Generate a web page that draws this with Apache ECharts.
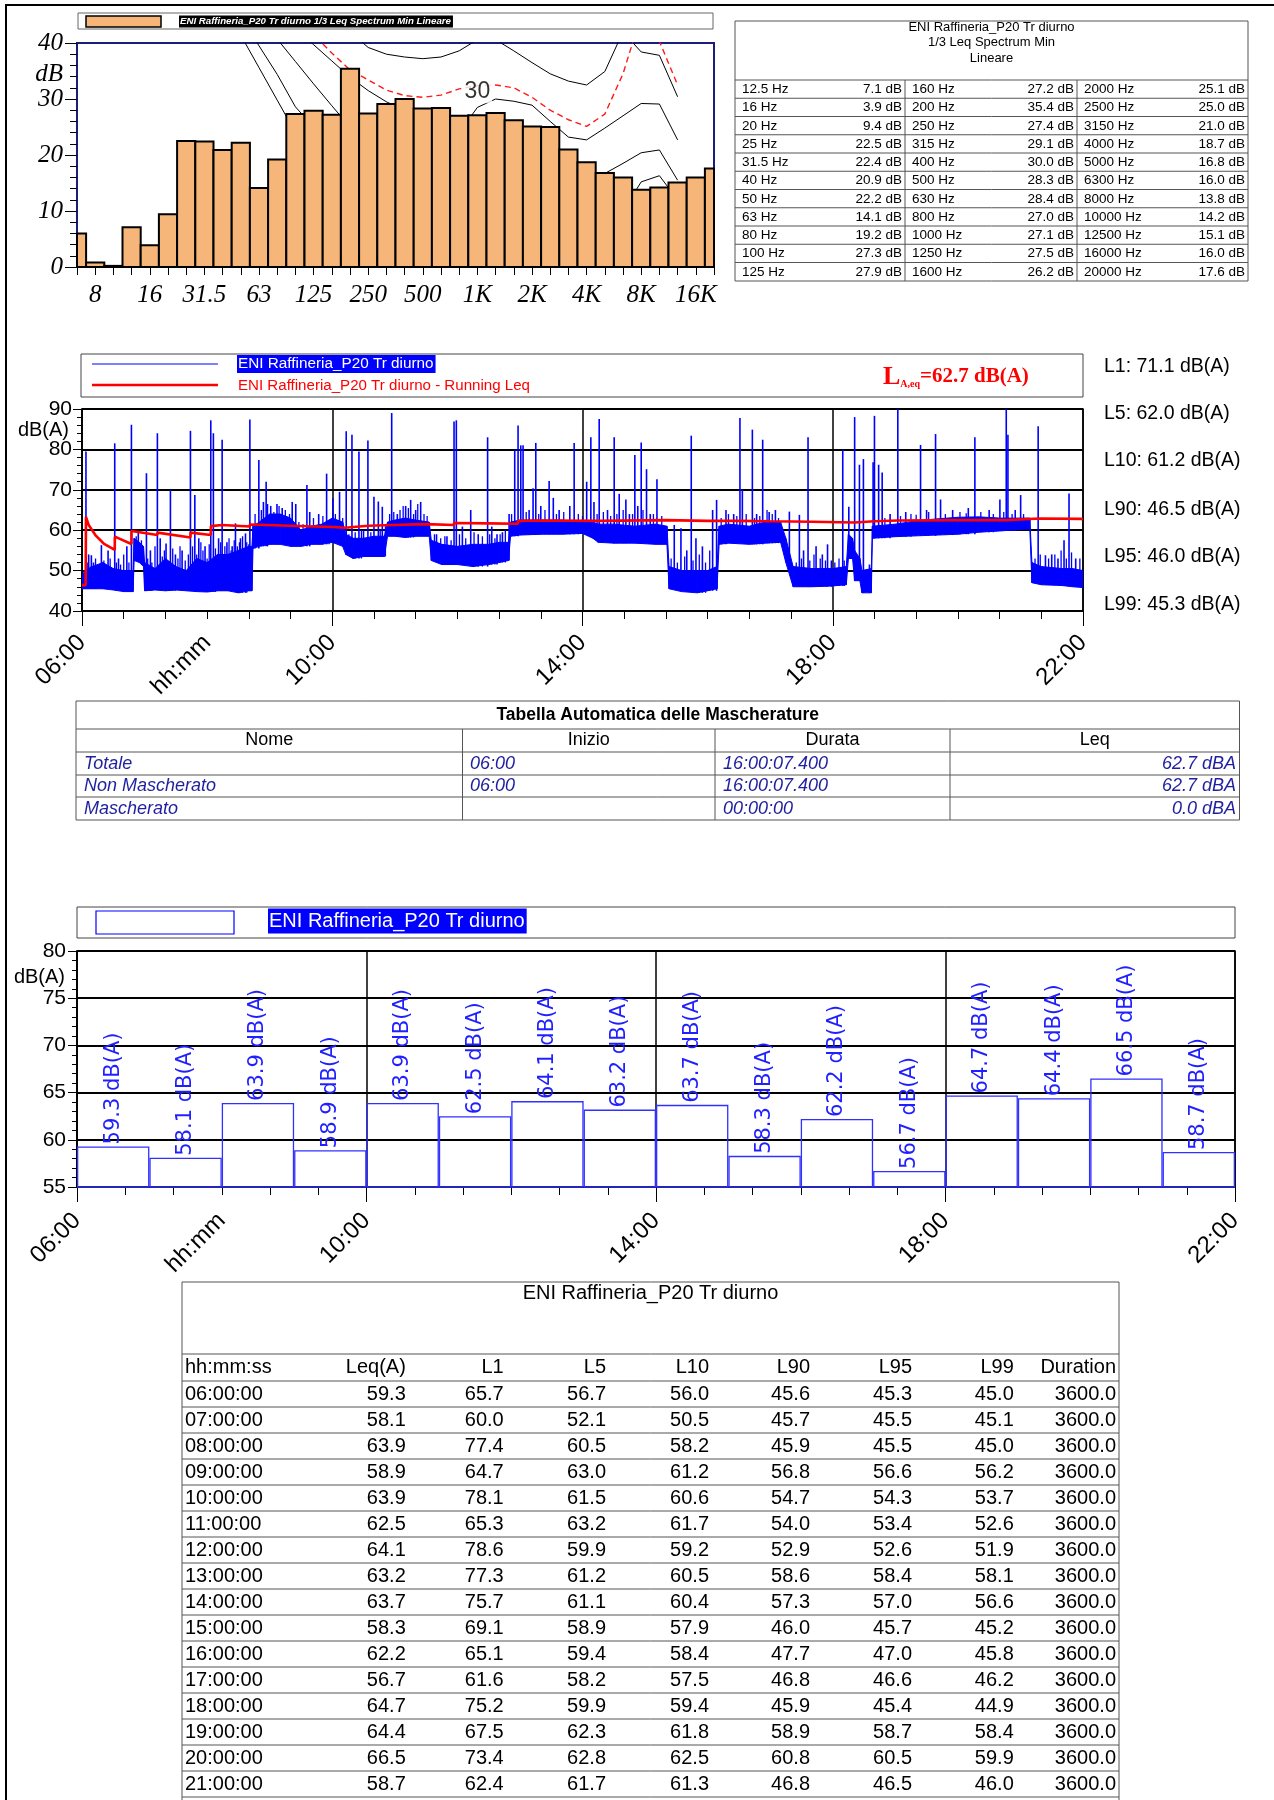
<!DOCTYPE html>
<html><head><meta charset="utf-8">
<script src="https://cdn.jsdelivr.net/npm/echarts/dist/echarts.min.js"></script>
<style>html,body{margin:0;padding:0;background:#fff}#c{width:1274px;height:1800px}</style>
</head><body><div id="c"></div>
<script>
// ---------------- DATA ----------------
const specBands = ['6.3','8','10','12.5','16','20','25','31.5','40','50','63','80','100','125','160','200','250','315','400','500','630','800','1K','1.25K','1.6K','2K','2.5K','3.15K','4K','5K','6.3K','8K','10K','12.5K','16K','20K'];
const specTickLabels = ['8','16','31.5','63','125','250','500','1K','2K','4K','8K','16K'];
const specValues = [6.0,0.8,0.2,7.1,3.9,9.4,22.5,22.4,20.9,22.2,14.1,19.2,27.3,27.9,27.2,35.4,27.4,29.1,30.0,28.3,28.4,27.0,27.1,27.5,26.2,25.1,25.0,21.0,18.7,16.8,16.0,13.8,14.2,15.1,16.0,17.6];
const tableFreqs = ['12.5 Hz','16 Hz','20 Hz','25 Hz','31.5 Hz','40 Hz','50 Hz','63 Hz','80 Hz','100 Hz','125 Hz','160 Hz','200 Hz','250 Hz','315 Hz','400 Hz','500 Hz','630 Hz','800 Hz','1000 Hz','1250 Hz','1600 Hz','2000 Hz','2500 Hz','3150 Hz','4000 Hz','5000 Hz','6300 Hz','8000 Hz','10000 Hz','12500 Hz','16000 Hz','20000 Hz'];
const specTableTitle = ['ENI Raffineria_P20 Tr diurno','1/3 Leq Spectrum Min','Lineare'];
const specLegend = 'ENI Raffineria_P20 Tr diurno 1/3 Leq Spectrum Min Lineare';
// contour curves (dB at each band)
const contourA = [null,null,null,null,null,null,null,null,null,41.4,35.6,29.8,24,20,17,15,13.5,12.5,11.5,11,10.5,10,10,10,9,7.5,5.5,4,3.5,5,10,15.2,16.3,12,null,null];
const contourB = [null,null,null,null,null,null,null,null,null,44.6,39.5,34.4,28.6,25,23,21.5,20.5,20,19.5,19.5,19.5,19.5,20,20,19,17,15,13.5,13,16.7,18.5,20.4,20.9,15.5,null,null];
const contourC = [null,null,null,null,null,null,null,null,null,48.7,44.7,40.7,36.7,32.7,28.8,25,22,21,20,20,20,20,20.5,20.5,19.5,17.5,15.5,13,11,9,9,10,10.5,8,null,null];
const contourD = [null,null,null,null,null,null,null,null,null,null,null,null,42.6,39.7,36.8,33.9,31.5,29.5,28,27.5,27.5,24,28.5,30,29.6,28.9,26,23.2,22.7,24.8,27,29.2,29.1,22.7,null,null];
const contourE = [null,null,null,null,null,null,null,null,null,null,null,null,null,50,46,42,39.2,38,37.5,37.2,37.5,38.6,40.6,40.6,38.6,36.5,34.5,33.2,32.5,34.9,42,38.4,37.8,30.4,null,null];
const contourRed = [null,null,null,null,null,null,null,null,null,null,null,null,45,41.5,38.2,35.2,33.4,31.6,30.6,30.3,30.7,31.8,32.4,32.5,32,30.3,28,26.3,25.1,27.3,34.5,45,40.3,32.5,null,null];
const contourLabel = ['1K', 31.3, '30'];

// time history (minutes after 06:00): [t, low, high] envelope of the level band
const bandPts = [[0,45.5,48.5],[3,45.5,50],[10,45.5,51],[20,45.5,52],[30,45.2,50.5],[40,44.8,50],[49,44.8,50],[50,52.5,58],[55,52,57],[59,51,56],[60,45,52],[70,45.2,50.5],[80,45,53],[90,45.2,51],[100,45,50],[110,44.8,53],[120,44.7,52],[130,45,54],[140,45,54],[150,44.5,55],[160,45,56],[163,45,56],[164,55.5,61],[170,56,62],[180,56.5,64],[190,56.5,64],[200,56,63],[210,56,60],[220,56.5,61],[230,56.5,61.5],[240,57,63],[250,56,62],[253,54,59],[260,53,58],[270,53.5,58],[280,53.5,58.5],[290,53.5,58.5],[293,58.5,62],[300,58.5,62.5],[310,58.2,63],[320,58.5,62.5],[333,58.5,62],[335,52.5,57.5],[345,51.5,56.5],[360,51.5,56],[375,51,56.5],[390,51.5,56.5],[400,52,57],[409,52.5,57],[411,58.5,62],[420,58.8,62.5],[440,59,62.5],[460,59,62.5],[480,59.2,62],[490,58,62],[495,57,61.5],[510,56.8,61.5],[530,56.8,61],[550,56.5,61.5],[561,56.5,61],[563,45.5,51],[575,44.8,50],[590,44.5,50],[600,45,50],[609,45.5,51],[611,56.5,61],[620,56.8,61.5],[640,56.5,61],[655,56.8,62],[670,57,62],[675,52,58],[682,46,51],[700,46,50.5],[720,46.2,50.5],[733,46.5,51],[735,53,59],[739,53,58],[741,47.5,55],[746,47.5,53],[748,44.5,50],[757,44.5,50.5],[758,58,61],[780,58.4,61.5],[800,58.6,62.3],[820,58.8,62.8],[840,59,63.2],[860,59.5,63.3],[880,59.8,63],[900,60.2,63],[909,60.3,63],[911,47,52],[920,46.5,51],[940,46.3,50.5],[950,46,50.5],[960,45.8,50]];
// short events: [t, peak]
const spikes = [[3.8,79.5],[6.4,54],[9,53.8],[11,52],[18.6,56.3],[25,55],[31.4,81.5],[35,53],[43,56],[47.4,86.1],[54,59.5],[61.8,74.1],[65.6,55],[72.3,84],[75,58],[80.6,56.7],[84.8,70],[89.6,54],[96,55],[104,84.6],[108.2,68.7],[112,58],[118,56],[123.5,87.2],[126,84],[131,58],[134.4,82.4],[139,57],[144,56],[147.2,61.7],[152,58],[156.8,59.2],[161,87.4],[169.6,77.4],[174,67],[176.6,72],[181,66],[187,66.5],[192,65.5],[201.6,67],[205,66.5],[215.7,71.2],[218.4,64.5],[227,64],[234.6,74],
[240.6,67.9],[247,69.5],[253.4,84.5],[258.9,83.6],[265.6,79.5],[270,60],[274.2,82.2],[280,68.3],[284.2,67.1],[288,65.8],[297,89],[302.4,64],[310.4,66],[315.2,67.5],[320,65],[324.8,67],[340,59],[350,58.5],[356.8,86.9],[359,87.2],[364.8,60.9],[372.8,65],[380,59],[389,83],[393,60.9],[398,59],[403.2,59.5],[409.6,64],[415,79.9],[418.2,85.9],[420.8,81],[423,81],[428.8,65],[432.6,70.4],[435.2,81.6],[440,66],[448,72.2],[452,68],[457.6,65],[467.8,66],[472,81.6],[484,72],
[488,83],[491,67],[496,87.5],[504,65],[510.4,83],[515.2,69],[521.6,67.6],[525,64],[530.2,78.6],[533,66],[536.3,81.7],[541.4,75.1],[545,64],[551.4,72.6],[568,61.3],[574.4,60.5],[580,55],[584.3,83.4],[588.8,58],[595,56],[604.8,65],[608.6,67.5],[617.6,65],[625,64],[631,87.8],[633.3,70],[642.9,84.9],[647,64],[652.8,82.4],[659,64.5],[665,65],[678.4,64.6],[688,63.8],[692,55],[696.3,83],[704,56],[710,54],[715,56.5],
[718.7,52.5],[729.6,79.9],[735.4,65.8],[741,88],[745.6,76.2],[749.4,77.6],[755.2,51.5],[758.7,76.8],[760,88.3],[764,76.2],[767.4,74.3],[775,64],[782.4,90],[790,64.5],[804.2,81.1],[810,65],[818.6,83.8],[823.4,67.6],[835,65],[850,65.5],[856.3,83],[870,65],[880.3,67.6],[886.4,90],[888,83.6],[895,65],[900.2,68.7],[917,85.7],[924,53.8],[930,54],[936,53],[941.8,57.5],[946.6,69.1],[953,53]];
// smaller fluctuations above the band: [t, peak]
const bursts = [[2,50],[5,52],[8,51],[13,53],[15,50.5],[21,52.5],[23,51],[27,53],[33,52],[37,51.5],[40,54],[45,52],[52,58.5],[57,57.5],[63,53],[67,52],[70,56],[77,53.5],[79,55],[83,52],[87,55.5],[92,53],[94,56],[99,52.5],[102,54],[106,56],[110,54],[114,57],[116,55],[120,53],[122,56.5],[128,55.5],[133,57],[137,56],[141,58],[143,55],[146,57.5],[149,56],[151,57],[154,58.5],[158,57],[160,56.5],
[166,64],[172,65],[178,66.5],[184,64.5],[189,66],[195,65],[199,64],[208,62],[212,61.5],[222,63],[231,63.5],[237,62.5],
[243,64],[250,63],[256,59],[262,59.5],[268,60],[277,59.5],[286,60],[291,61],
[295,64],[299,64.5],[305,65],[308,66],[313,65.5],[318,64],[322,66.5],[328,64],[331,63.5],
[338,59],[344,58],[348,58.5],[354,57.5],[362,59],[368,58],[376,59.5],[384,58.5],[391,59],[396,58],[401,59],[406,60],
[412,64],[426,64.5],[438,64],[444,65],[455,64],[462,64.5],[476,64],[480,63.5],
[494,64],[500,64.5],[507,63.5],[513,64],[519,65],[528,64],[538,65],[548,64],[556,63.5],
[565,53],[571,52],[578,53.5],[586,52.5],[592,54],[598,52],[602,55],
[613,63],[620,64],[628,63.5],[637,64],[645,63],[650,63.5],[657,65],[662,64],[668,63],
[685,52],[690,53],[698,52.5],[702,54],[708,53],[713,52.5],[722,52],[726,53],[731,52.5],
[770,63],[785,63.5],[795,64],[800,63.8],[812,64.5],[828,64],[842,64.5],[848,64.2],[862,64.5],[874,64],[884,64.5],[892,64],[903,64],
[914,53],[919,54],[927,53],[933,54],[939,55],[944,53],[949,54.5],[957,53]];
const runLeq = [[0,46.4],[3.5,46.4],[3.8,63.3],[6.4,61.3],[12.8,58.8],[20.8,56.7],[31.4,55.1],[31.5,58.4],[47.4,56.6],[47.5,59.8],[72.3,58.8],[72.4,59.4],[104,58.2],[104.1,59.4],[123.5,58.8],[123.6,61],[134.4,61.3],[160.9,60.9],[161,61.4],[200,61.1],[240,60.8],[253,60.6],[260,60.8],[275,61.1],[296.9,61.3],[297,61.7],[330,61.5],[356.7,61.3],[356.8,61.8],[389,61.7],[418,61.6],[418.2,62.3],[440,62.4],[495.9,62.3],[496,62.5],[560,62.5],[600,62.3],[630.9,62.3],[631,62.4],[660,62.2],[700,62.1],[740.9,61.9],[741,62.1],[759.9,62.2],[760,62.3],[782.3,62.4],[782.4,62.6],[850,62.5],[886.3,62.5],[886.4,62.9],[918,62.9],[958,62.8],[960,62.7]];
const hourTickLabels = ['06:00','10:00','14:00','18:00','22:00'];
const xUnitLabel = 'hh:mm';
const seriesName = 'ENI Raffineria_P20 Tr diurno';
const runName = 'ENI Raffineria_P20 Tr diurno - Running Leq';
const laeq = 62.7;
const statNames = ['L1','L5','L10','L90','L95','L99'];
const statValues = [71.1,62.0,61.2,46.5,46.0,45.3];

// masking table
const maskTitle = 'Tabella Automatica delle Mascherature';
const maskHeaders = ['Nome','Inizio','Durata','Leq'];
const maskNames = ['Totale','Non Mascherato','Mascherato'];
const maskStart = ['06:00','06:00',''];
const maskDur = ['16:00:07.400','16:00:07.400','00:00:00'];
const maskLeq = ['62.7 dBA','62.7 dBA','0.0 dBA'];

// hourly table
const tabTimes = ['06:00:00','07:00:00','08:00:00','09:00:00','10:00:00','11:00:00','12:00:00','13:00:00','14:00:00','15:00:00','16:00:00','17:00:00','18:00:00','19:00:00','20:00:00','21:00:00'];
const tabLeq = [59.3,58.1,63.9,58.9,63.9,62.5,64.1,63.2,63.7,58.3,62.2,56.7,64.7,64.4,66.5,58.7];
const tabL1 = [65.7,60.0,77.4,64.7,78.1,65.3,78.6,77.3,75.7,69.1,65.1,61.6,75.2,67.5,73.4,62.4];
const tabL5 = [56.7,52.1,60.5,63.0,61.5,63.2,59.9,61.2,61.1,58.9,59.4,58.2,59.9,62.3,62.8,61.7];
const tabL10 = [56.0,50.5,58.2,61.2,60.6,61.7,59.2,60.5,60.4,57.9,58.4,57.5,59.4,61.8,62.5,61.3];
const tabL90 = [45.6,45.7,45.9,56.8,54.7,54.0,52.9,58.6,57.3,46.0,47.7,46.8,45.9,58.9,60.8,46.8];
const tabL95 = [45.3,45.5,45.5,56.6,54.3,53.4,52.6,58.4,57.0,45.7,47.0,46.6,45.4,58.7,60.5,46.5];
const tabL99 = [45.0,45.1,45.0,56.2,53.7,52.6,51.9,58.1,56.6,45.2,45.8,46.2,44.9,58.4,59.9,46.0];
const tabDur = [3600.0,3600.0,3600.0,3600.0,3600.0,3600.0,3600.0,3600.0,3600.0,3600.0,3600.0,3600.0,3600.0,3600.0,3600.0,3600.0];
const tabHeaders = ['hh:mm:ss','Leq(A)','L1','L5','L10','L90','L95','L99','Duration'];

// ---------------- STYLE ----------------
const SANS = '"Liberation Sans", Arial, sans-serif';
const SERIF = '"Liberation Serif", "Times New Roman", serif';
const ORANGE = '#f6b679';
const NAVY = '#1c1c7c';
const BLUE = '#0000ff';
const ITBLUE = '#1f1f9f';

// ---------------- GRAPHICS ----------------
const G = [];
function T(x, y, text, font, opt) {
  G.push({type:'text', x:x, y:y, silent:true, z:100,
    style: Object.assign({text:text, font:font, fill:'#000', textAlign:'left', align:'left', textVerticalAlign:'middle', verticalAlign:'middle'}, opt || {})});
}
function L(x1, y1, x2, y2, stroke, lw, dash) {
  G.push({type:'line', silent:true, z:99, shape:{x1:x1,y1:y1,x2:x2,y2:y2}, style:{stroke:stroke||'#000', lineWidth:lw||1, lineDash:dash||null}});
}
function R(x, y, w, h, fill, stroke, lw) {
  G.push({type:'rect', silent:true, z:98, shape:{x:x,y:y,width:w,height:h}, style:{fill:fill||'none', stroke:stroke||null, lineWidth:lw||1}});
}
function right(opt){ return Object.assign({textAlign:'right', align:'right'}, opt||{}); }
function center(opt){ return Object.assign({textAlign:'center', align:'center'}, opt||{}); }

// page frame
L(5, 5, 1274, 5, '#000', 2);
L(6, 5, 6, 1800, '#000', 2);

// spectrum legend
R(78, 13, 635, 16, '#fff', '#666', 1);
R(86, 16, 75, 11, ORANGE, '#000', 1.5);
T(179, 21.5, specLegend, 'italic bold 9.7px ' + SANS, {fill:'#fff', backgroundColor:'#000', padding:[1,2,1,1]});
T(63, 74, 'dB', 'italic 25px ' + SERIF, right());

// spectrum table
R(735, 21, 513, 260, '#fff', '#555', 1);
L(735, 80, 1248, 80, '#555', 1);
specTableTitle.forEach((s, i) => T(991.5, 27 + i * 15.5, s, '13px ' + SANS, center()));
const colX = [735, 905, 1077, 1248];
for (let k = 1; k <= 10; k++) L(735, 80 + 18.25 * k, 1248, 80 + 18.25 * k, '#555', 1);
L(905, 80, 905, 281, '#555', 1); L(1077, 80, 1077, 281, '#555', 1);
for (let c = 0; c < 3; c++) for (let r = 0; r < 11; r++) {
  const idx = c * 11 + r;
  const y = 80 + 18.25 * r + 9.5;
  T(colX[c] + 7, y, tableFreqs[idx], '13.5px ' + SANS);
  T(colX[c + 1] - 3, y, specValues[3 + idx].toFixed(1) + ' dB', '13.5px ' + SANS, right());
}

// time history legend
R(81, 354, 1002, 43, '#fff', '#444', 1);
L(92, 364, 218, 364, BLUE, 1.2);
T(237, 364, seriesName, '15.3px ' + SANS, {fill:'#fff', backgroundColor:BLUE, padding:[2,2,1,1]});
L(92, 385, 218, 385, '#ff0000', 2.5);
T(238, 386, runName, '15.1px ' + SANS, {fill:'#ff0000'});
G.push({type:'text', x:883, y:377, silent:true, z:100, style:{
  text:'{a|L}{b|A,eq}{c|=' + laeq.toFixed(1) + ' dB(A)}', fill:'#ff0000', textVerticalAlign:'middle', verticalAlign:'middle',
  rich:{a:{font:'bold 26px ' + SERIF, fill:'#ff0000'}, b:{font:'bold 10px ' + SERIF, fill:'#ff0000', padding:[14,0,0,0]}, c:{font:'bold 21px ' + SERIF, fill:'#ff0000'}}}});
statNames.forEach((n, i) => T(1104, [367,414,461,510,557,605][i], n + ': ' + statValues[i].toFixed(1) + ' dB(A)', '19.5px ' + SANS));
T(69, 430, 'dB(A)', '20px ' + SANS, right());

// masking table
const mY = [701, 729, 752, 775, 797, 820];
const mX = [76, 462.5, 715, 950, 1239.5];
R(76, 701, 1163.5, 119, '#fff', '#555', 1);
mY.slice(1, 5).forEach(y => L(76, y, 1239.5, y, '#555', 1));
[462.5, 715, 950].forEach(x => L(x, 729, x, 820, '#555', 1));
T(657.7, 715, maskTitle, 'bold 17.5px ' + SANS, center());
maskHeaders.forEach((h, i) => T((mX[i] + mX[i + 1]) / 2, 740.5, h, '18px ' + SANS, center()));
for (let r = 0; r < 3; r++) {
  const y = [763.5, 786, 808.5][r];
  const f = 'italic 18px ' + SANS;
  T(84, y, maskNames[r], f, {fill:ITBLUE});
  T(470, y, maskStart[r], f, {fill:ITBLUE});
  T(723, y, maskDur[r], f, {fill:ITBLUE});
  T(1236, y, maskLeq[r], f, right({fill:ITBLUE}));
}

// hourly legend
R(77, 907, 1158, 31, '#fff', '#444', 1);
R(96, 911, 138, 23, '#fff', BLUE, 1.2);
T(268, 921, seriesName, '20px ' + SANS, {fill:'#fff', backgroundColor:BLUE, padding:[3,2,2,1]});
T(65, 977, 'dB(A)', '20px ' + SANS, right());

// hourly table
R(182, 1282, 937, 530, '#fff', '#555', 1);
L(182, 1354, 1119, 1354, '#555', 1);
T(650.5, 1293, seriesName, '20px ' + SANS, center());
const tRight = [405.8, 503.7, 606, 709, 810, 912, 1013.8, 1116];
const tCols = [tabLeq, tabL1, tabL5, tabL10, tabL90, tabL95, tabL99, tabDur];
T(185, 1367, tabHeaders[0], '20px ' + SANS);
tabHeaders.slice(1).forEach((h, i) => T(tRight[i], 1367, h, '20px ' + SANS, right()));
L(182, 1381, 1119, 1381, '#555', 1);
tabTimes.forEach((t, r) => {
  const y = 1394 + 26 * r;
  T(185, y, t, '20px ' + SANS);
  tCols.forEach((col, c) => T(tRight[c], y, col[r].toFixed(1), '20px ' + SANS, right()));
  L(182, y + 13, 1119, y + 13, '#555', 1);
});

// ---------------- CHART ----------------
function bandLoAt(t) {
  let lo = bandPts[0][1];
  for (const p of bandPts) { if (p[0] <= t) lo = p[1]; else break; }
  return lo;
}
function timeAxes(gi, margin) {
  const lab = {show:true, rotate:45, margin:margin, fontFamily:SANS, fontSize:24, color:'#000'};
  return [
    {type:'value', gridIndex:gi, min:0, max:960, interval:240, position:'bottom',
     axisLine:{show:true, onZero:false, lineStyle:{color:'#000', width:1.5}},
     axisTick:{show:true, length:15, lineStyle:{color:'#000', width:1}},
     minorTick:{show:true, splitNumber:6, length:8, lineStyle:{color:'#000', width:1}},
     splitLine:{show:true, lineStyle:{color:'#000', width:1.5}},
     axisLabel:Object.assign({}, lab, {formatter:v => hourTickLabels[Math.round(v / 240)] || ''})},
    {type:'value', gridIndex:gi, min:0, max:960, interval:120, position:'bottom',
     axisLine:{show:false}, axisTick:{show:false}, minorTick:{show:false}, splitLine:{show:false},
     axisLabel:Object.assign({}, lab, {formatter:v => v === 120 ? xUnitLabel : ''})}
  ];
}
const ta = timeAxes(1, 28);
const ba = timeAxes(2, 30);

const lineSer = (data, color, dash, w) => ({type:'line', xAxisIndex:0, yAxisIndex:0, data:data, z:2, silent:true,
  symbol:'none', connectNulls:false, clip:true, lineStyle:{color:color, width:w || 1, type:dash || 'solid'}, animation:false});
const eventSer = (arr, lw) => ({type:'custom', xAxisIndex:1, yAxisIndex:1, data:arr, clip:true, z:3, silent:true,
  encode:{x:0, y:1},
  renderItem:(params, api) => {
    const s = arr[params.dataIndex];
    const p0 = api.coord([s[0], bandLoAt(s[0])]), p1 = api.coord([s[0], s[1]]);
    return {type:'line', shape:{x1:p0[0], y1:p0[1], x2:p1[0], y2:p1[1]}, style:{stroke:BLUE, lineWidth:lw}};
  }});

const option = {
  animation:false,
  backgroundColor:'#fff',
  graphic:{elements:G},
  grid:[
    {left:77, top:43, width:637, height:224, show:true, borderColor:NAVY, borderWidth:2, backgroundColor:'rgba(0,0,0,0)', outerBoundsMode:'none', containLabel:false},
    {left:82, top:409, width:1001, height:202, show:true, borderColor:'#000', borderWidth:1.5, backgroundColor:'rgba(0,0,0,0)', outerBoundsMode:'none', containLabel:false},
    {left:77, top:951, width:1158, height:236, show:true, borderColor:'#000', borderWidth:1.5, backgroundColor:'rgba(0,0,0,0)', outerBoundsMode:'none', containLabel:false}
  ],
  xAxis:[
    {type:'category', gridIndex:0, data:specBands, boundaryGap:false, position:'bottom',
     axisLine:{show:true, onZero:false, lineStyle:{color:NAVY, width:2}},
     axisTick:{show:true, interval:0, length:8, lineStyle:{color:'#000'}},
     splitLine:{show:false},
     axisLabel:{show:true, interval:(i, v) => specTickLabels.indexOf(v) >= 0, margin:16, fontFamily:SERIF, fontStyle:'italic', fontSize:25, color:'#000'}},
    ta[0], ta[1],
    {type:'category', gridIndex:2, data:tabTimes, boundaryGap:true, show:false, position:'top'},
    ba[0], ba[1]
  ],
  yAxis:[
    {type:'value', gridIndex:0, min:0, max:40, interval:10,
     axisLine:{show:true, lineStyle:{color:NAVY, width:2}},
     axisTick:{show:true, length:12, lineStyle:{color:'#000'}},
     minorTick:{show:true, splitNumber:5, length:7, lineStyle:{color:'#000'}},
     splitLine:{show:false},
     axisLabel:{margin:14, fontFamily:SERIF, fontStyle:'italic', fontSize:25, color:'#000'}},
    {type:'value', gridIndex:1, min:40, max:90, interval:10,
     axisLine:{show:true, lineStyle:{color:'#000', width:1.5}},
     axisTick:{show:true, length:9, lineStyle:{color:'#000'}},
     minorTick:{show:true, splitNumber:5, length:5, lineStyle:{color:'#000'}},
     splitLine:{show:true, lineStyle:{color:'#000', width:2.2}},
     axisLabel:{margin:10, fontFamily:SANS, fontSize:21, color:'#000'}},
    {type:'value', gridIndex:2, min:55, max:80, interval:5,
     axisLine:{show:true, lineStyle:{color:'#000', width:1.5}},
     axisTick:{show:true, length:9, lineStyle:{color:'#000'}},
     minorTick:{show:true, splitNumber:5, length:5, lineStyle:{color:'#000'}},
     splitLine:{show:true, lineStyle:{color:'#000', width:2.2}},
     axisLabel:{margin:11, fontFamily:SANS, fontSize:21, color:'#000'}}
  ],
  series:[
    lineSer(contourA, '#000'), lineSer(contourB, '#000'), lineSer(contourC, '#000'),
    lineSer(contourD, '#000'), lineSer(contourE, '#000'), lineSer(contourRed, '#ff1a1a', [6,4], 1.4),
    {type:'custom', xAxisIndex:0, yAxisIndex:0, data:specValues.map((v, i) => [i, v]), z:3, silent:true,
     encode:{x:0, y:1},
     renderItem:(params, api) => {
       const cs = params.coordSys;
       const top = api.coord([api.value(0), api.value(1)]);
       const base = api.coord([api.value(0), 0]);
       const w = api.size([1, 0])[0];
       const x0 = Math.max(cs.x, top[0] - w / 2), x1 = Math.min(cs.x + cs.width, top[0] + w / 2);
       return {type:'rect', shape:{x:x0, y:top[1], width:x1 - x0, height:base[1] - top[1]},
               style:{fill:ORANGE, stroke:'#000', lineWidth:2}};
     }},
    {type:'scatter', xAxisIndex:0, yAxisIndex:0, data:[[contourLabel[0], contourLabel[1]]], symbolSize:1, z:4, silent:true,
     itemStyle:{color:'rgba(0,0,0,0)'},
     label:{show:true, position:'inside', formatter:contourLabel[2], fontFamily:SANS, fontSize:23, color:'#000', backgroundColor:'#fff', padding:[0,2]}},
    {type:'custom', xAxisIndex:1, yAxisIndex:1, data:bandPts, clip:true, z:3, silent:true,
     encode:{x:0, y:[1,2]},
     renderItem:(params, api) => {
       const i = params.dataIndex;
       if (i >= bandPts.length - 1) return {type:'group', children:[]};
       const a = bandPts[i], b = bandPts[i + 1];
       const pts = [api.coord([a[0], a[2]]), api.coord([b[0], b[2]]), api.coord([b[0], b[1]]), api.coord([a[0], a[1]])];
       return {type:'polygon', shape:{points:pts}, style:{fill:BLUE, stroke:BLUE, lineWidth:1}};
     }},
    eventSer(spikes, 1.6),
    eventSer(bursts, 1.3),
    {type:'line', xAxisIndex:1, yAxisIndex:1, data:runLeq, symbol:'none', z:5, silent:true, clip:true,
     lineStyle:{color:'#ff0000', width:2.6}},
    {type:'bar', xAxisIndex:3, yAxisIndex:2, data:tabLeq, barWidth:'100%', clip:true, z:3, silent:true,
     itemStyle:{color:'rgba(255,255,255,0)', borderColor:'#3030ff', borderWidth:1.3},
     label:{show:true, position:'top', rotate:90, align:'left', verticalAlign:'middle', distance:2,
            formatter:p => p.value.toFixed(1) + ' dB(A)', fontFamily:'"DejaVu Sans", sans-serif', fontSize:21, color:'#1f1fff'}}
  ]
};
const chart = echarts.init(document.getElementById('c'), null, {renderer:'canvas', width:1274, height:1800});
chart.setOption(option);
</script></body></html>
